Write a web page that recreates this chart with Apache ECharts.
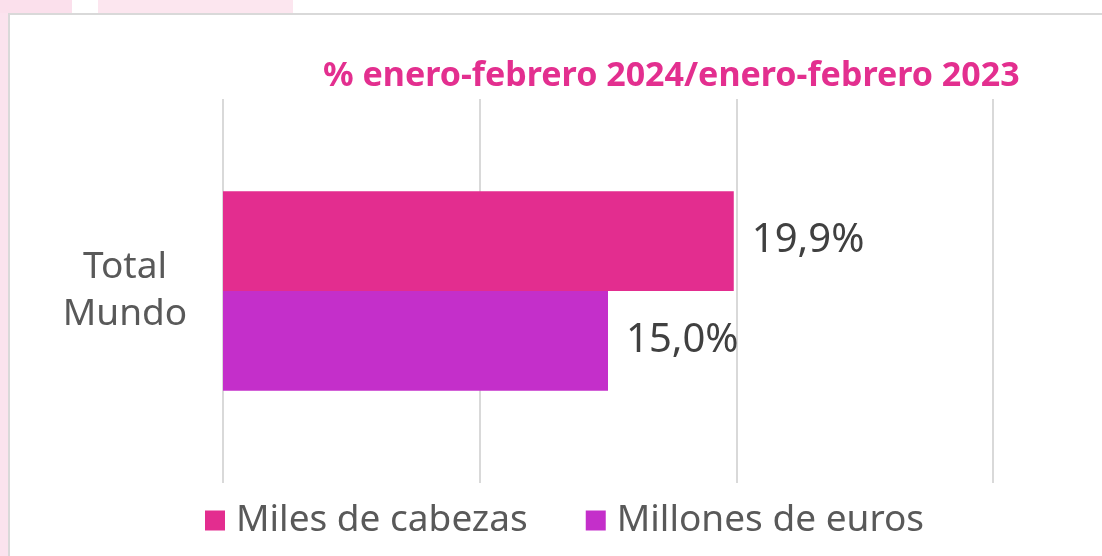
<!DOCTYPE html>
<html>
<head>
<meta charset="utf-8">
<script src="https://cdn.jsdelivr.net/npm/echarts@6/dist/echarts.min.js"></script>
<style>
html,body{margin:0;padding:0;background:#fff;}
#chart{width:1102px;height:556px;}
</style>
</head>
<body>
<div id="chart"></div>
<script>
const categories = ['Total\nMundo'];
const seriesNames = ['Miles de cabezas', 'Millones de euros'];
const milesCabezas = [19.9];
const millonesEuros = [15.0];
const titleText = '% enero-febrero 2024/enero-febrero 2023';

const FONT = 'Noto Sans';
const chart = echarts.init(document.getElementById('chart'), null, {renderer: 'canvas'});
const fmt = p => p.value.toFixed(1).replace('.', ',') + '%';

chart.setOption({
  backgroundColor: '#ffffff',
  animation: false,
  graphic: [
    {type: 'rect', shape: {x: 0, y: 0, width: 8, height: 556}, style: {fill: '#fbe3ee'}, z: -10},
    {type: 'rect', shape: {x: 0, y: 0, width: 72, height: 13}, style: {fill: '#fbe0ec'}, z: -10},
    {type: 'rect', shape: {x: 98, y: 0, width: 195, height: 13}, style: {fill: '#fce6ef'}, z: -10},
    {type: 'polyline', shape: {points: [[9, 556], [9, 14], [1102, 14]]}, style: {stroke: '#d9d9d9', lineWidth: 2, fill: null}, z: -5}
  ],
  title: {
    text: titleText,
    left: 318, top: 54,
    textStyle: {fontFamily: FONT, fontSize: 34, fontWeight: 'bold', color: '#e32f8f'}
  },
  legend: {
    left: 200, top: 497,
    icon: 'rect', itemWidth: 20, itemHeight: 20, itemGap: 58,
    textStyle: {fontFamily: FONT, fontSize: 37, color: '#595959', padding: [0, 0, 0, 6]},
    data: seriesNames
  },
  grid: {left: 223, right: 109, top: 99, bottom: 73, containLabel: false},
  xAxis: {
    type: 'value', min: 0, max: 30, interval: 10,
    axisLabel: {show: false}, axisLine: {show: false}, axisTick: {show: false},
    splitLine: {show: true, lineStyle: {color: '#d9d9d9', width: 2}}
  },
  yAxis: {
    type: 'category', data: categories, inverse: true,
    axisLine: {show: false}, axisTick: {show: false},
    axisLabel: {fontFamily: FONT, fontSize: 37, color: '#595959', align: 'center', margin: 98, lineHeight: 47}
  },
  series: [
    {name: seriesNames[0], type: 'bar', data: milesCabezas, itemStyle: {color: '#e32d8f'}, barCategoryGap: '48%', barGap: '0%',
     label: {show: true, position: 'right', distance: 18, formatter: fmt, fontFamily: FONT, fontSize: 40, color: '#404040'}},
    {name: seriesNames[1], type: 'bar', data: millonesEuros, itemStyle: {color: '#c42fca'}, barCategoryGap: '48%', barGap: '0%',
     label: {show: true, position: 'right', distance: 18, formatter: fmt, fontFamily: FONT, fontSize: 40, color: '#404040'}}
  ]
});
</script>
</body>
</html>
